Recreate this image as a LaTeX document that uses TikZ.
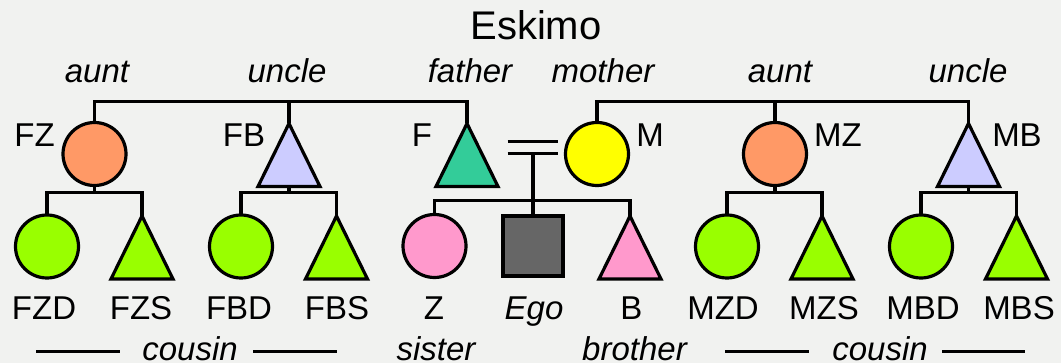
\documentclass[tikz,border=0pt]{standalone}
\usepackage{fontspec}
\setmainfont{Liberation Sans}
\definecolor{bg}{HTML}{F1F2F0}
\definecolor{orng}{HTML}{FF9966}
\definecolor{lav}{HTML}{CCCCFF}
\definecolor{teal}{HTML}{33CC99}
\definecolor{yel}{HTML}{FFFF00}
\definecolor{lime}{HTML}{99FF00}
\definecolor{pnk}{HTML}{FF99CC}
\definecolor{egog}{HTML}{666666}
\begin{document}
\begin{tikzpicture}[x=1pt,y=-1pt,line width=3.2pt,
  fem/.style={circle,draw,minimum size=63pt,inner sep=0pt,outer sep=0pt},
  tribox/.style={rectangle,minimum width=62pt,minimum height=63pt,inner sep=0pt,outer sep=0pt},
  egobox/.style={rectangle,draw,minimum size=60pt,inner sep=0pt,outer sep=0pt,fill=egog},
  lab/.style={anchor=base,inner sep=0pt,font=\fontsize{33}{36}\selectfont},
  rel/.style={anchor=base,inner sep=0pt,font=\fontsize{33}{36}\selectfont\itshape},
  ttl/.style={anchor=base,inner sep=0pt,font=\fontsize{40}{44}\selectfont}]
\fill[bg] (0,0) rectangle (1061,363);
\useasboundingbox (0,0) rectangle (1061,363);

% title
\node[ttl] (title) at (536,40) {Eskimo};

% relation labels top
\node[rel] (r1) at (97,83) {aunt};
\node[rel] (r2) at (287,83) {uncle};
\node[rel] (r3) at (470,83) {father};
\node[rel] (r4) at (603,83) {mother};
\node[rel] (r5) at (780,83) {aunt};
\node[rel] (r6) at (968,83) {uncle};

% generation 1 shapes
\node[fem,fill=orng] (FZ) at (94.5,154) {};
\node[tribox] (FB) at (289,155) {};
\node[tribox] (F) at (467,155) {};
\node[fem,fill=yel] (M) at (597,154) {};
\node[fem,fill=orng] (MZ) at (775,154) {};
\node[tribox] (MB) at (968.5,155) {};
\draw[fill=lav] (FB.south west) -- (FB.north) -- (FB.south east) -- cycle;
\draw[fill=teal] (F.south west) -- (F.north) -- (F.south east) -- cycle;
\draw[fill=lav] (MB.south west) -- (MB.north) -- (MB.south east) -- cycle;

% generation 2 shapes
\node[fem,fill=lime] (FZD) at (47,246.5) {};
\node[tribox] (FZS) at (142,247.5) {};
\node[fem,fill=lime] (FBD) at (241,246.5) {};
\node[tribox] (FBS) at (336.5,247.5) {};
\node[fem,fill=pnk] (Z) at (434.5,246) {};
\node[egobox] (Ego) at (533,246) {};
\node[tribox] (B) at (630,247.5) {};
\node[fem,fill=lime] (MZD) at (727,246.5) {};
\node[tribox] (MZS) at (822,247.5) {};
\node[fem,fill=lime] (MBD) at (921,246.5) {};
\node[tribox] (MBS) at (1016.5,247.5) {};
\foreach \t/\c in {FZS/lime,FBS/lime,B/pnk,MZS/lime,MBS/lime}
  \draw[fill=\c] (\t.south west) -- (\t.north) -- (\t.south east) -- cycle;

% level coordinates
\coordinate (top) at (0,101.7);
\coordinate (kid) at (0,192.7);
\coordinate (sib) at (0,200.5);
\coordinate (mar) at (532.5,147.5);

% sibling lines of parents' generation
\draw (FZ.north) -- (FZ.north |- top) -- (F.north |- top) -- (F.north);
\draw (FB.north) -- (FB.north |- top);
\draw (M.north) -- (M.north |- top) -- (MB.north |- top) -- (MB.north);
\draw (MZ.north) -- (MZ.north |- top);

% children of aunts and uncles
\foreach \p/\d/\s in {FZ/FZD/FZS,FB/FBD/FBS,MZ/MZD/MZS,MB/MBD/MBS}{
  \draw (\p.south) -- (\p.south |- kid);
  \draw (\d.north) -- (\d.north |- kid) -- (\s.north |- kid) -- (\s.north);
}

% marriage and Ego's siblings
\draw (mar) ++(-25,-5.8) -- ++(50,0);
\draw (mar) ++(-25,5.8) -- ++(50,0);
\draw (Ego.north) -- ([yshift=-5.8pt]Ego.north |- mar);
\draw (Z.north) -- (Z.north |- sib) -- (B.north |- sib) -- (B.north);

% name labels
\node[lab] (lFZ) at (34.5,147) {FZ};
\node[lab] (lFB) at (244,147) {FB};
\node[lab] (lF) at (422,147) {F};
\node[lab] (lM) at (650,147) {M};
\node[lab] (lMZ) at (838,147) {MZ};
\node[lab] (lMB) at (1017,147) {MB};
\node[lab] (lFZD) at (44,319.5) {FZD};
\node[lab] (lFZS) at (141,319.5) {FZS};
\node[lab] (lFBD) at (239,319.5) {FBD};
\node[lab] (lFBS) at (337,319.5) {FBS};
\node[lab] (lZ) at (434,319.5) {Z};
\node[rel] (lEgo) at (534,319.5) {Ego};
\node[lab] (lB) at (631.5,319.5) {B};
\node[lab] (lMZD) at (723,319.5) {MZD};
\node[lab] (lMZS) at (824,319.5) {MZS};
\node[lab] (lMBD) at (923,319.5) {MBD};
\node[lab] (lMBS) at (1019,319.5) {MBS};

% bottom relation labels
\node[rel] (c1) at (190,360.5) {cousin};
\node[rel] (sis) at (436,360.5) {sister};
\node[rel] (bro) at (634.5,360.5) {brother};
\node[rel] (c2) at (880,360.5) {cousin};
\coordinate (d1a) at (36,351.5); \coordinate (d1b) at (120,351.5);
\coordinate (d2a) at (253,351.5); \coordinate (d2b) at (337,351.5);
\coordinate (d3a) at (725,351.5); \coordinate (d3b) at (809,351.5);
\coordinate (d4a) at (942,351.5); \coordinate (d4b) at (1025,351.5);
\draw (d1a) -- (d1b);
\draw (d2a) -- (d2b);
\draw (d3a) -- (d3b);
\draw (d4a) -- (d4b);
\end{tikzpicture}
\end{document}
